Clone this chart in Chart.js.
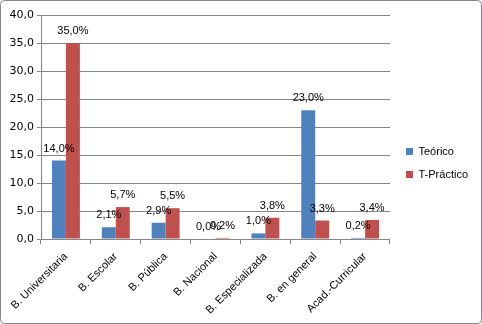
<!DOCTYPE html>
<html>
<head>
<meta charset="utf-8">
<script src="https://cdn.jsdelivr.net/npm/chart.js@4"></script>
<style>
  html, body { margin: 0; padding: 0; background: #fff; }
  canvas { display: block; }
</style>
</head>
<body>
<canvas id="grafico" width="482" height="324"></canvas>
<script>
// categorías y valores (%)
const categorias = ['B. Universitaria', 'B. Escolar', 'B. Pública', 'B. Nacional', 'B. Especializada', 'B. en general', 'Acad.-Curricular'];
const teorico = [14.0, 2.1, 2.9, 0.0, 1.0, 23.0, 0.2];
const tPractico = [35.0, 5.7, 5.5, 0.2, 3.8, 3.3, 3.4];
const ejeY = [0, 5, 10, 15, 20, 25, 30, 35, 40];

const coma = v => v.toFixed(1).replace('.', ',');
const fuente = '"Liberation Sans", Arial, sans-serif';

// marco gris alrededor de todo el gráfico
const marco = {
    id: 'marco',
    beforeDraw(chart) {
        const c = chart.ctx;
        c.save();
        c.fillStyle = '#fff';
        c.fillRect(0, 0, chart.width, chart.height);
        c.strokeStyle = '#868686';
        c.lineWidth = 1;
        c.beginPath();
        c.roundRect(0.5, 0.5, chart.width - 1, chart.height - 1, 4);
        c.stroke();
        c.restore();
    }
};

// mover un poco la leyenda (arriba y a la derecha)
const ajusteLeyenda = {
    id: 'ajusteLeyenda',
    afterLayout(chart) {
        const l = chart.legend;
        l.top -= 4; l.bottom -= 4;
        l.left += 4; l.right += 4;
    }
};

// etiquetas de valor encima de cada barra
const etiquetas = {
    id: 'etiquetas',
    afterDatasetsDraw(chart) {
        const c = chart.ctx;
        c.save();
        c.font = '11px ' + fuente;
        c.fillStyle = '#000';
        c.textAlign = 'center';
        c.textBaseline = 'middle';
        chart.data.datasets.forEach((ds, i) => {
            chart.getDatasetMeta(i).data.forEach((bar, j) => {
                c.fillText(coma(ds.data[j]) + '%', bar.x, bar.y - 12);
            });
        });
        c.restore();
    }
};

const ctx = document.getElementById('grafico').getContext('2d');
new Chart(ctx, {
    type: 'bar',
    data: {
        labels: categorias,
        datasets: [
            { label: 'Teórico', data: teorico, backgroundColor: '#4F81BD' },
            { label: 'T-Práctico', data: tPractico, backgroundColor: '#C0504D' }
        ]
    },
    options: {
        responsive: false,
        animation: false,
        categoryPercentage: 0.56,
        barPercentage: 1.0,
        layout: { padding: { top: 15, left: 4, right: 8, bottom: 5 } },
        plugins: {
            tooltip: { enabled: false },
            legend: {
                position: 'right',
                labels: {
                    boxWidth: 7,
                    boxHeight: 7,
                    padding: 12,
                    color: '#000',
                    font: { family: fuente, size: 11 }
                }
            }
        },
        scales: {
            x: {
                afterFit: s => { s.height = 80; },
                grid: { display: true, drawOnChartArea: false, tickLength: 5, color: '#868686' },
                border: { color: '#868686' },
                ticks: {
                    minRotation: 45,
                    maxRotation: 45,
                    color: '#000',
                    padding: 6,
                    font: { family: fuente, size: 11 }
                }
            },
            y: {
                min: 0,
                max: 40,
                afterFit: s => { s.width = 37; },
                afterBuildTicks: s => { s.ticks = ejeY.map(v => ({ value: v })); },
                grid: { color: '#868686', tickLength: 4 },
                border: { color: '#868686' },
                ticks: {
                    color: '#000',
                    padding: 3,
                    callback: v => coma(v),
                    font: { family: '"DejaVu Sans", Verdana, sans-serif', size: 11 }
                }
            }
        }
    },
    plugins: [marco, ajusteLeyenda, etiquetas]
});
</script>
</body>
</html>
